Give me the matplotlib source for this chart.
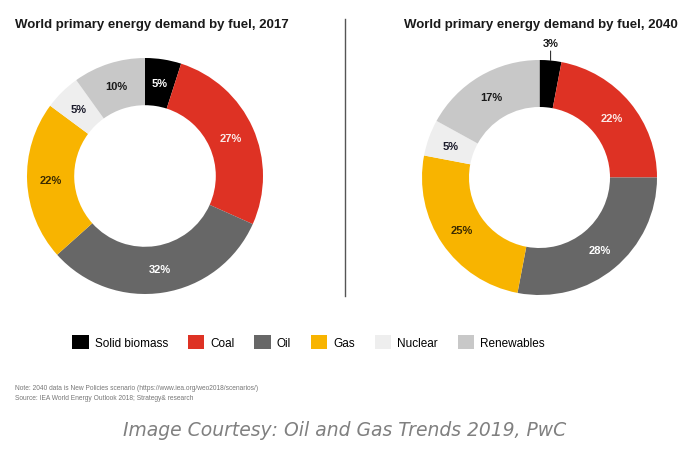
import numpy as np
import matplotlib
matplotlib.use("Agg")
import matplotlib.pyplot as plt
from matplotlib.patches import Patch

fuels = ["Solid biomass", "Coal", "Oil", "Gas", "Nuclear", "Renewables"]
colors = ["#000000", "#de3224", "#676767", "#f8b400", "#eeeeee", "#c8c8c8"]
share_2017 = [5, 27, 32, 22, 5, 10]
share_2040 = [3, 22, 28, 25, 5, 17]
label_colors = ["#ffffff", "#fbe9e7", "#ffffff", "#3a2a00", "#1a1a2a", "#1a1a1a"]
titles = ["World primary energy demand by fuel, 2017",
          "World primary energy demand by fuel, 2040"]

W, H = 693, 460
plt.rcParams["font.family"] = ["Liberation Sans", "DejaVu Sans"]
fig = plt.figure(figsize=(W / 100, H / 100), dpi=100)


def px_axes(cx, cy, r):
    return fig.add_axes([(cx - r) / W, (H - cy - r) / H, 2 * r / W, 2 * r / H])


def donut(ax, values, outside_idx=None):
    wedges, _ = ax.pie(values, colors=colors, startangle=90, counterclock=False,
                       radius=1.0, wedgeprops=dict(width=0.4, linewidth=0))
    ax.set_xlim(-1, 1)
    ax.set_ylim(-1, 1)
    ax.set_aspect("equal")
    ax.axis("off")
    for i, (w, v) in enumerate(zip(wedges, values)):
        ang = np.deg2rad((w.theta1 + w.theta2) / 2)
        if i == outside_idx:
            ax.annotate(f"{v}%", xy=(np.cos(ang), np.sin(ang)),
                        xytext=(np.cos(ang), 1.10), ha="center", va="bottom",
                        fontsize=8, fontweight="bold", color="#1a1a1a",
                        arrowprops=dict(arrowstyle="-", color="#333333", lw=0.8,
                                        shrinkA=0, shrinkB=0),
                        annotation_clip=False)
        else:
            r = 0.8
            ax.text(r * np.cos(ang), r * np.sin(ang), f"{v}%", ha="center",
                    va="center", fontsize=8, fontweight="bold",
                    color=label_colors[i])
    return wedges


ax1 = px_axes(145, 177, 118)
donut(ax1, share_2017)
ax2 = px_axes(539.5, 178.5, 117.5)
donut(ax2, share_2040, outside_idx=0)

fig.text(15 / W, 1 - 25 / H, titles[0], ha="left", va="center",
         fontsize=9.5, fontweight="bold", color="#1a1a1a")
fig.text(541 / W, 1 - 25 / H, titles[1], ha="center", va="center",
         fontsize=9.5, fontweight="bold", color="#1a1a1a")

fig.add_artist(plt.Line2D([345 / W, 345 / W], [1 - 20 / H, 1 - 297 / H],
                          color="#555555", lw=1.0))

handles = [Patch(facecolor=c, edgecolor="none") for c in colors]
fig.legend(handles, fuels, loc="center", bbox_to_anchor=(308.5 / W, 1 - 343 / H),
           ncol=6, frameon=False, fontsize=8.5, handlelength=1.4,
           handleheight=1.4, handletextpad=0.5, columnspacing=1.68)

fig.text(15 / W, 1 - 389 / H,
         "Note: 2040 data is New Policies scenario (https://www.iea.org/weo2018/scenarios/)",
         ha="left", va="center", fontsize=4.8, color="#777777")
fig.text(15 / W, 1 - 398.5 / H,
         "Source: IEA World Energy Outlook 2018; Strategy& research",
         ha="left", va="center", fontsize=4.8, color="#777777")

fig.text(345 / W, 1 - 431 / H, "Image Courtesy: Oil and Gas Trends 2019, PwC",
         ha="center", va="center", fontsize=13.5, style="italic",
         family=["DejaVu Sans"], color="#808080")

fig.savefig("out.png", dpi=100, facecolor="white")
